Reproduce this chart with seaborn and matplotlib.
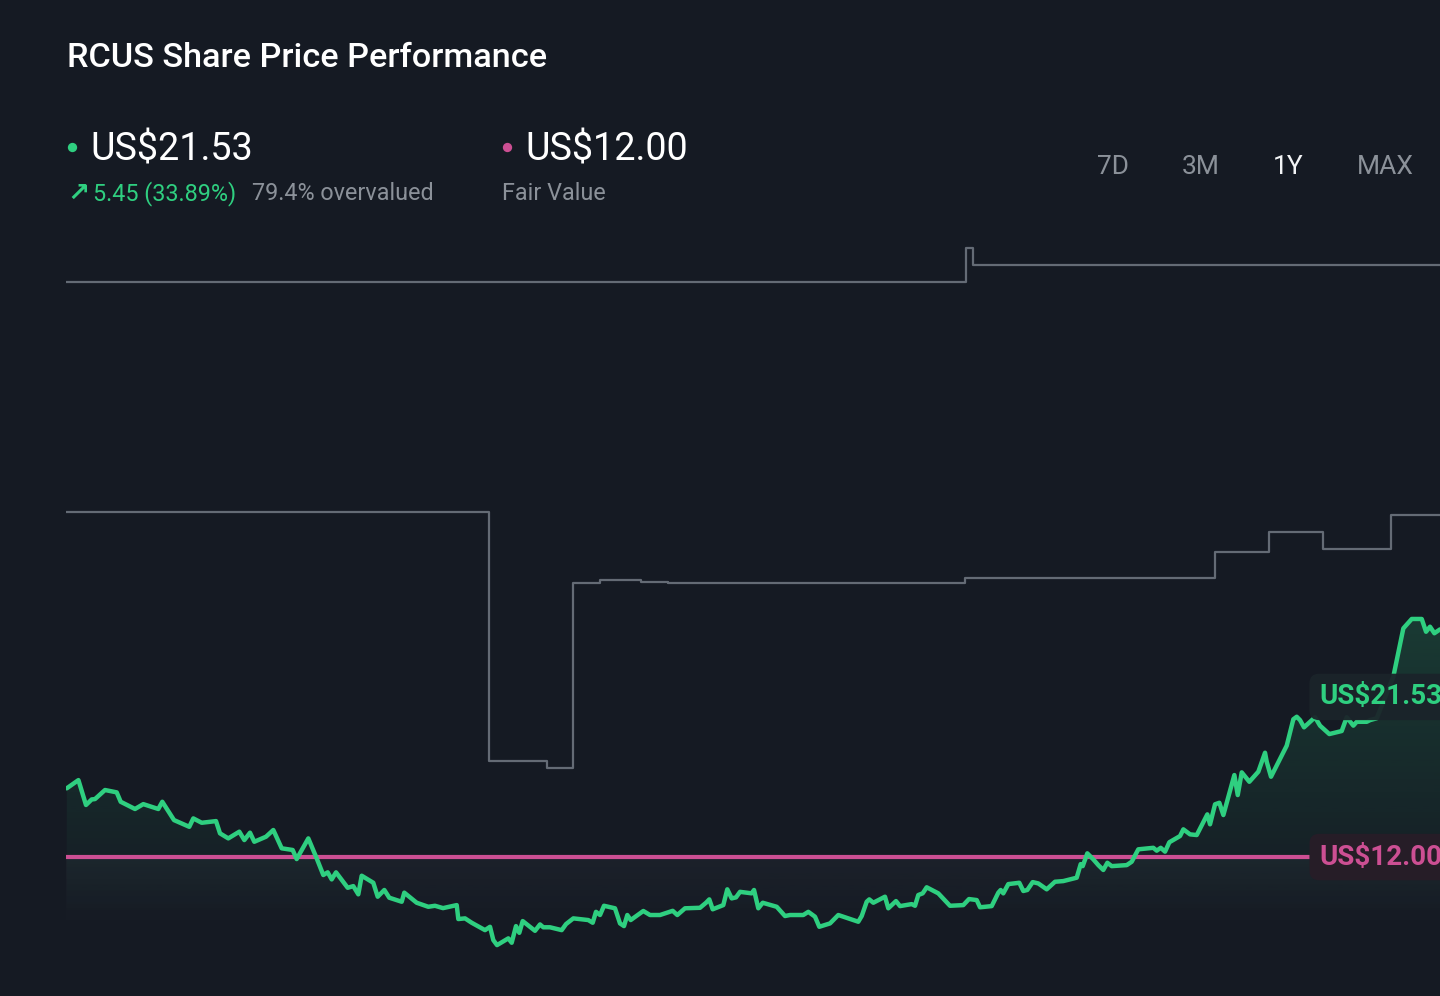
import numpy as np
import matplotlib
matplotlib.use("Agg")
from matplotlib import pyplot as plt
import seaborn as sns

# price history, day offsets within the year and closing price (US$)
price_days = [0.2, 3.3, 5.31, 6.83, 7.7, 10.36, 13.47, 14.53, 18.33, 20.53,
              24.52, 25.58, 28.69, 32.75, 33.82, 36.05, 39.85, 40.91, 43.11, 46.04,
              47.37, 48.88, 50.02, 53.13, 55.07, 57.3, 60.22, 61.28, 64.37, 66.6,
              68.35, 69.52, 70.58, 71.73, 74.83, 76.32, 77.65, 78.55, 81.63, 82.8,
              84.56, 85.88, 89.18, 89.87, 93.16, 96.24, 98.02, 100.15, 103.79, 104.22,
              106.0, 107.77, 111.31, 112.64, 113.51, 114.5, 117.5, 118.4, 119.54, 120.42,
              121.32, 124.59, 125.92, 126.79, 128.57, 131.68, 132.83, 134.77, 138.75, 139.92,
              140.79, 141.86, 142.92, 145.84, 147.17, 148.23, 149.11, 150.01, 153.36, 155.14,
              157.8, 161.17, 162.39, 164.44, 168.42, 170.02, 170.89, 171.79, 174.61, 175.67,
              176.84, 177.99, 179.05, 182.15, 182.77, 183.91, 185.08, 188.8, 191.0, 192.33,
              195.86, 197.19, 198.97, 200.11, 202.96, 205.16, 210.47, 211.38, 212.7, 213.39,
              214.46, 217.56, 218.44, 220.49, 221.55, 224.66, 225.54, 226.41, 227.58, 228.64,
              231.72, 234.83, 238.37, 239.88, 241.93, 242.81, 245.91, 247.67, 248.3, 248.99,
              250.32, 253.24, 254.31, 255.37, 256.8, 258.29, 260.52, 262.73, 264.93, 268.49,
              269.55, 270.09, 271.31, 272.91, 274.23, 275.56, 276.63, 277.79, 281.78, 283.1,
              284.86, 288.84, 289.75, 290.81, 291.96, 293.1, 295.94, 296.82, 298.6, 300.38,
              303.19, 303.91, 305.24, 306.38, 307.45, 310.37, 311.27, 312.33, 314.35, 316.74,
              318.52, 318.97, 320.11, 324.28, 326.04, 326.94, 327.82, 328.88, 331.8, 333.13,
              335.6, 338.89, 340.22, 341.98, 342.88, 345.53, 346.41, 348.19, 352.6, 355.26,
              357.49, 360.15, 361.29, 362.35, 363.5, 365.0]
prices = [16.09, 16.58, 15.10, 15.43, 15.45, 15.99, 15.85, 15.29, 14.86, 15.15,
          14.86, 15.29, 14.20, 13.80, 14.30, 14.04, 14.14, 13.41, 13.11, 13.51,
          13.01, 13.45, 12.91, 13.21, 13.61, 12.52, 12.42, 11.88, 13.11, 11.92,
          10.93, 11.09, 10.67, 11.09, 10.17, 10.27, 9.78, 10.89, 10.47, 9.64,
          10.04, 9.58, 9.34, 9.88, 9.28, 9.04, 9.10, 8.96, 9.14, 8.31,
          8.35, 8.09, 7.65, 7.85, 7.06, 6.76, 7.16, 6.90, 7.89, 7.49,
          8.19, 7.61, 7.99, 7.82, 7.82, 7.65, 8.01, 8.35, 8.25, 8.09,
          8.74, 8.55, 9.10, 8.95, 8.05, 7.89, 8.55, 8.25, 8.79, 8.55,
          8.55, 8.80, 8.55, 8.95, 8.98, 9.28, 9.48, 8.89, 9.14, 10.08,
          9.54, 9.60, 9.93, 9.84, 10.04, 8.95, 9.28, 9.04, 8.49, 8.55,
          8.55, 8.74, 8.45, 7.85, 8.05, 8.55, 8.15, 8.49, 9.34, 9.48,
          9.28, 9.64, 8.95, 9.38, 9.08, 9.20, 9.10, 9.74, 9.84, 10.20,
          9.84, 9.10, 9.14, 9.50, 9.44, 9.01, 9.08, 9.88, 10.04, 9.84,
          10.39, 10.47, 9.98, 10.04, 10.51, 10.43, 10.08, 10.53, 10.57, 10.77,
          11.58, 11.46, 12.22, 11.86, 11.52, 11.23, 11.66, 11.46, 11.52, 11.72,
          12.46, 12.55, 12.38, 12.55, 12.32, 12.88, 13.25, 13.65, 13.35, 13.31,
          14.54, 13.95, 15.14, 15.23, 14.50, 16.88, 15.69, 17.04, 16.48, 17.08,
          18.21, 17.67, 16.78, 18.63, 20.20, 20.35, 20.15, 19.72, 20.32, 19.82,
          19.32, 19.50, 20.32, 19.82, 20.05, 20.05, 20.15, 20.26, 22.73, 25.61,
          26.17, 26.17, 25.41, 25.71, 25.32, 25.55]

# analyst target step lines (day the value starts, value)
high_days = [0, 239.1, 240.9, 365]
high_vals = [46.23, 48.25, 47.24, 47.24]
low_days = [0, 112.4, 127.8, 134.7, 141.9, 152.7, 159.9, 238.8, 305.2, 319.6, 333.9, 352.0, 365]
low_vals = [32.54, 17.71, 17.30, 28.31, 28.49, 28.37, 28.31, 28.61, 30.15, 31.35, 30.33, 32.36, 32.36]

last_price = 21.53
fair_value = 12.00
change_text = "5.45 (33.89%)"
valuation_text = "79.4% overvalued"
periods = ["7D", "3M", "1Y", "MAX"]
active_period = "1Y"

bg = "#151a23"
green = "#2fcf80"
pink = "#cc4f93"
grey_step = "#646b75"
grey_text = "#8b9199"

sns.set_theme(style="dark", rc={"axes.facecolor": bg, "figure.facecolor": bg})
plt.rcParams['font.family'] = ['Roboto', 'DejaVu Sans']

fig = plt.figure(figsize=(14.4, 9.96), dpi=100)
ax = fig.add_axes([66 / 1440, 0, 1 - 66 / 1440, 766 / 996])
ylo, yhi = 3.73, 49.32
ax.set_xlim(0, 365)
ax.set_ylim(ylo, yhi)
ax.set_axis_off()

# faint band under the fair value line
yy = np.linspace(ylo, yhi, 400)
band = np.zeros((400, 1, 4))
band[..., :3] = matplotlib.colors.to_rgb("#a3acc0")
band[:, 0, 3] = np.where(yy <= fair_value, np.clip((yy - 7.5) / 4.5, 0, 1) * 0.05, 0)
ax.imshow(band, extent=[0, 365, ylo, yhi], origin="lower", aspect="auto", zorder=1)

# green gradient under the price line
grad = np.zeros((400, 1, 4))
grad[..., :3] = matplotlib.colors.to_rgb(green)
grad[:, 0, 3] = np.clip((yy - 8) / 100, 0, 0.2)
im = ax.imshow(grad, extent=[0, 365, ylo, yhi], origin="lower", aspect="auto", zorder=2)
area = ax.fill_between(price_days, prices, ylo, facecolor="none", edgecolor="none")
im.set_clip_path(area.get_paths()[0], transform=ax.transData)

ax.step(high_days, high_vals, where="post", color=grey_step, lw=1.6, zorder=3)
ax.step(low_days, low_vals, where="post", color=grey_step, lw=1.6, zorder=3)
ax.axhline(fair_value, color=pink, lw=3, zorder=4)
sns.lineplot(x=price_days, y=prices, ax=ax, color=green, lw=3.2, zorder=5)
ax.set_xlim(0, 365)
ax.set_ylim(ylo, yhi)

ax.text(332.9, last_price, f"US${last_price:.2f}", color=green, fontsize=20, fontweight="bold",
        va="center", ha="left", zorder=6,
        bbox=dict(boxstyle="round,pad=0.35", fc="#1b242a", ec="none", alpha=0.95))
ax.text(332.9, fair_value, f"US${fair_value:.2f}", color=pink, fontsize=20, fontweight="bold",
        va="center", ha="left", zorder=6,
        bbox=dict(boxstyle="round,pad=0.35", fc="#261d27", ec="none"))

# header in pixel coordinates
hdr = fig.add_axes([0, 0, 1, 1], zorder=10)
hdr.set_xlim(0, 1440)
hdr.set_ylim(996, 0)
hdr.set_axis_off()
hdr.patch.set_alpha(0)

hdr.text(67, 67, "RCUS Share Price Performance", color="white", fontsize=24.7,
         fontweight="medium", va="baseline")
hdr.scatter([72], [147], s=45, color=green, linewidths=0)
hdr.text(90, 160, f"US${last_price:.2f}", color="white", fontsize=27.2, va="baseline")
hdr.text(67, 201, "\u2197", color=green, fontsize=19, fontweight="bold", va="baseline",
         family=["DejaVu Sans"])
hdr.text(93, 200, change_text, color=green, fontsize=16.8, va="baseline")
hdr.text(252, 200, valuation_text, color=grey_text, fontsize=16.8, va="baseline")

hdr.scatter([507], [147], s=45, color=pink, linewidths=0)
hdr.text(525, 160, f"US${fair_value:.2f}", color="white", fontsize=27.2, va="baseline")
hdr.text(502, 200, "Fair Value", color=grey_text, fontsize=16.8, va="baseline")

for p, px in zip(periods, [1097, 1182, 1273, 1357]):
    hdr.text(px, 174, p, color="#f2f4f6" if p == active_period else grey_text,
             fontsize=19, va="baseline")

fig.savefig("out.png", dpi=100, facecolor=bg)
